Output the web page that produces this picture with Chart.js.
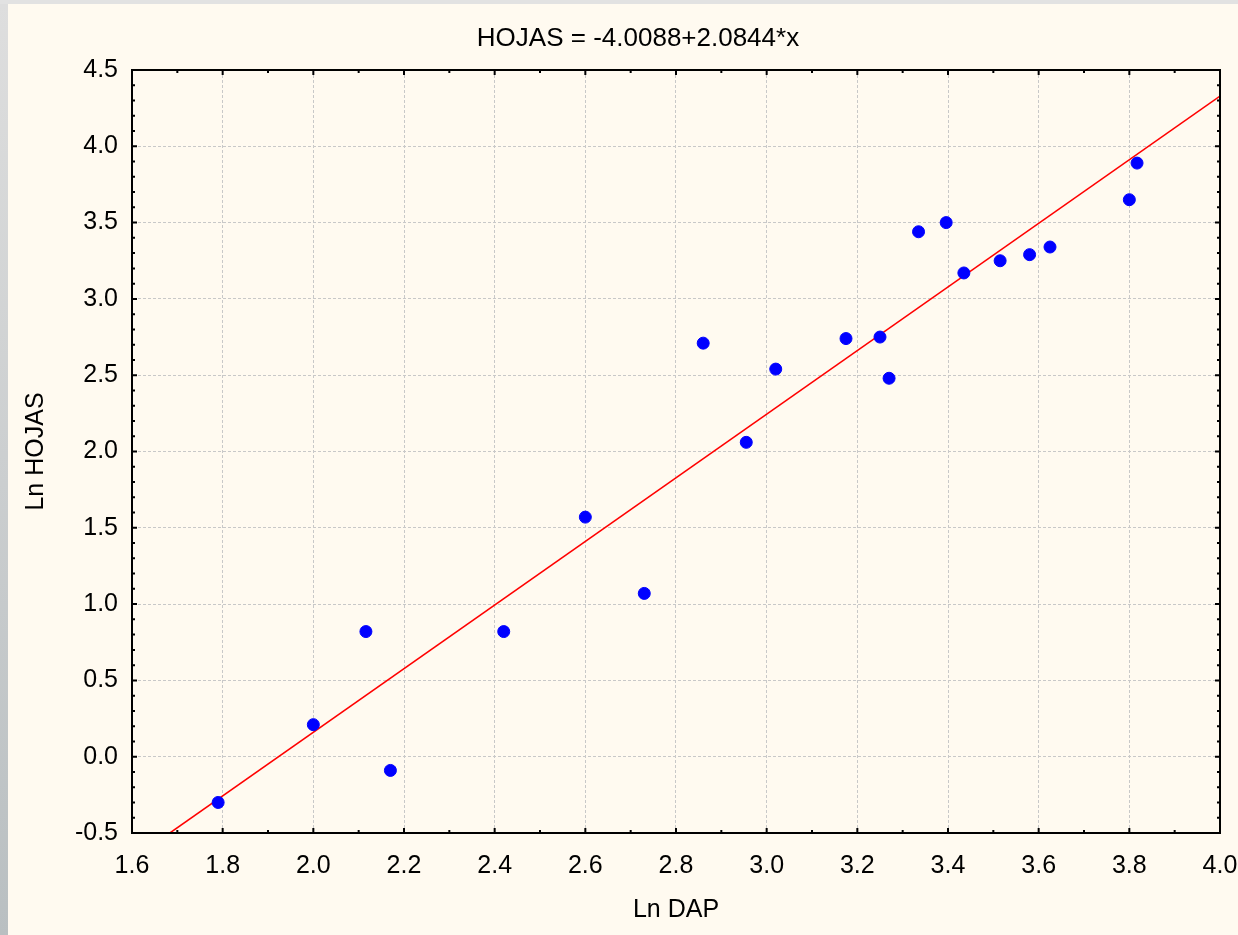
<!DOCTYPE html>
<html lang="es">
<head>
    <meta charset="UTF-8">
    <title>Ln HOJAS vs Ln DAP</title>
    <script src="https://cdn.jsdelivr.net/npm/chart.js"></script>
    <style>
        html, body { margin: 0; padding: 0; overflow: hidden; }
        body { width: 1238px; height: 935px; background: #e2e2e2; position: relative; }
        .strip {
            position: absolute; left: 0; top: 4px; width: 8px; height: 931px;
            background: linear-gradient(to bottom, #dedede, #b9bfc1);
        }
        .panel {
            position: absolute; left: 8px; top: 4px; width: 1230px; height: 931px;
            background: #fffaf0;
        }
        .chart-box { position: absolute; left: 0; top: 0; width: 1238px; height: 935px; }
    </style>
</head>
<body>
    <div class="strip"></div>
    <div class="panel"></div>
    <div class="chart-box">
        <canvas id="scatter" width="1238" height="935"></canvas>
    </div>

    <script>
        // observed points (log-transformed)
        const lnDap   = [1.79, 2.00, 2.116, 2.17, 2.42, 2.60, 2.73, 2.86, 2.955, 3.02, 3.175,
                         3.25, 3.27, 3.335, 3.396, 3.435, 3.515, 3.58, 3.625, 3.80, 3.817];
        const lnHojas = [-0.30, 0.21, 0.82, -0.09, 0.82, 1.57, 1.07, 2.71, 2.06, 2.54, 2.74,
                         2.75, 2.48, 3.44, 3.50, 3.17, 3.25, 3.29, 3.34, 3.65, 3.89];

        // fitted regression, as printed in the title
        const intercept = -4.0088;
        const slope = 2.0844;
        const titleText = 'HOJAS = -4.0088+2.0844*x';

        const xRange = [1.6, 4.0];
        const yRange = [-0.5, 4.5];

        const FONT = "'Liberation Sans', Arial, sans-serif";

        const points = lnDap.map((x, i) => ({ x: x, y: lnHojas[i] }));
        const fitLine = xRange.map(x => ({ x: x, y: intercept + slope * x }));

        // frame, inner tick marks and text labels
        const framePlugin = {
            id: 'frame',
            afterDraw(chart) {
                const c = chart.ctx;
                const a = chart.chartArea;
                const xs = chart.scales.x, ys = chart.scales.y;
                c.save();
                c.strokeStyle = '#000';

                // minor + major ticks, pointing inward on all four sides
                c.lineWidth = 2;
                for (let i = 0; i <= 24; i++) {
                    const v = xRange[0] + i * 0.1;
                    const px = xs.getPixelForValue(v);
                    const len = (i % 2 === 0) ? 5 : 3;
                    c.beginPath();
                    c.moveTo(px, a.bottom); c.lineTo(px, a.bottom - len);
                    c.moveTo(px, a.top); c.lineTo(px, a.top + len);
                    c.stroke();
                }
                for (let i = 0; i <= 50; i++) {
                    const v = yRange[0] + i * 0.1;
                    const py = ys.getPixelForValue(v);
                    const len = (i % 5 === 0) ? 5 : 3;
                    c.beginPath();
                    c.moveTo(a.left, py); c.lineTo(a.left + len, py);
                    c.moveTo(a.right, py); c.lineTo(a.right - len, py);
                    c.stroke();
                }

                c.lineWidth = 2;
                c.strokeRect(a.left, a.top, a.right - a.left, a.bottom - a.top);

                c.fillStyle = '#000';
                c.textAlign = 'center';
                c.textBaseline = 'middle';
                c.font = '26px ' + FONT;
                c.fillText(titleText, 638, 39);
                c.font = '25px ' + FONT;
                c.fillText('Ln DAP', (a.left + a.right) / 2, 910);

                c.translate(36, (a.top + a.bottom) / 2);
                c.rotate(-Math.PI / 2);
                c.fillText('Ln HOJAS', 0, 0);
                c.restore();
            }
        };

        const ctx = document.getElementById('scatter').getContext('2d');
        new Chart(ctx, {
            type: 'scatter',
            data: {
                datasets: [
                    {
                        label: 'Ln HOJAS',
                        data: points,
                        backgroundColor: '#0000ff',
                        borderColor: '#0000ff',
                        pointRadius: 6,
                        pointHoverRadius: 6,
                        order: 1
                    },
                    {
                        type: 'line',
                        label: 'ajuste',
                        data: fitLine,
                        borderColor: '#ff0000',
                        borderWidth: 1.6,
                        pointRadius: 0,
                        fill: false,
                        order: 2
                    }
                ]
            },
            options: {
                responsive: false,
                animation: false,
                layout: { padding: { top: 70, right: 18, left: 0, bottom: 0 } },
                plugins: {
                    legend: { display: false },
                    tooltip: { enabled: false }
                },
                scales: {
                    x: {
                        type: 'linear',
                        min: xRange[0],
                        max: xRange[1],
                        afterFit: s => {
                            s.height = 102;
                            s.paddingLeft = 0;
                            s.paddingRight = 0;
                        },
                        ticks: {
                            stepSize: 0.2,
                            color: '#000',
                            padding: 18,
                            maxRotation: 0,
                            font: { family: FONT, size: 25 },
                            callback: v => v.toFixed(1)
                        },
                        grid: { color: '#c8c8c8', lineWidth: 1, drawTicks: false },
                        border: { display: true, color: '#000', width: 2, dash: [3, 2] }
                    },
                    y: {
                        type: 'linear',
                        min: yRange[0],
                        max: yRange[1],
                        afterFit: s => {
                            s.width = 132;
                            s.paddingTop = 0;
                            s.paddingBottom = 0;
                        },
                        ticks: {
                            stepSize: 0.5,
                            color: '#000',
                            padding: 14,
                            font: { family: FONT, size: 25 },
                            callback: v => v.toFixed(1)
                        },
                        grid: { color: '#c8c8c8', lineWidth: 1, drawTicks: false },
                        border: { display: true, color: '#000', width: 2, dash: [3, 2] }
                    }
                }
            },
            plugins: [framePlugin]
        });
    </script>
</body>
</html>
